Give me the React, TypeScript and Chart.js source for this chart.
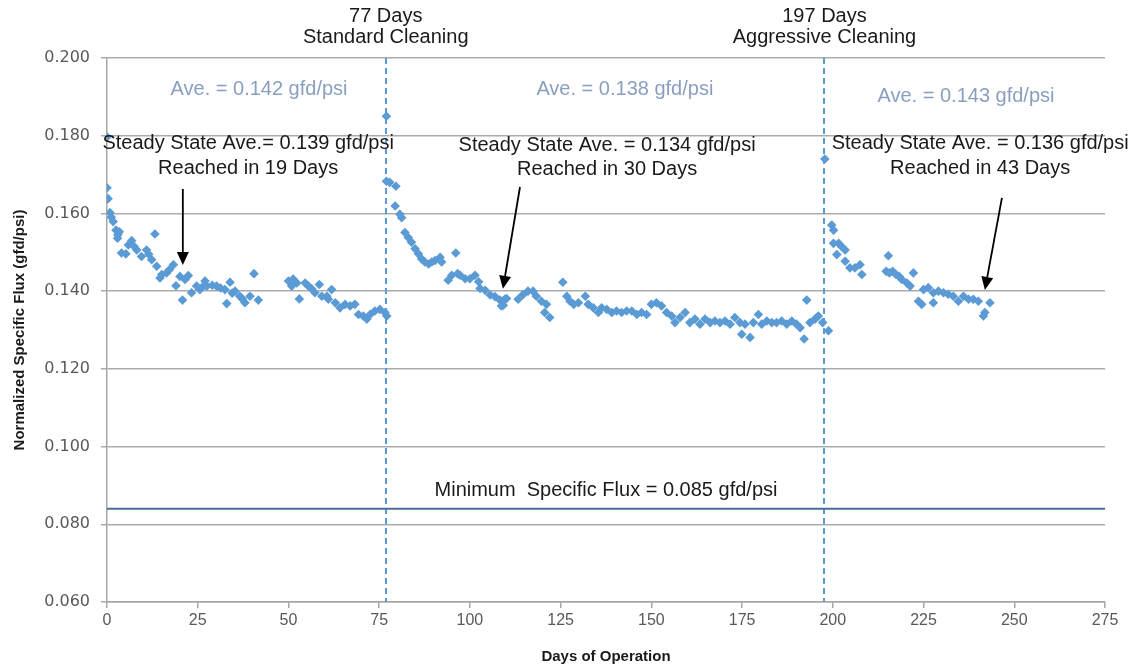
import React, { useEffect, useRef } from "react";
import { Chart, registerables } from "chart.js";

Chart.register(...registerables);

// ---- Data ----
const days: number[] = [
  // Run 1 (start-up to standard cleaning)
  0, 0, 0.3, 0.8, 1.2, 1.7, 2.5, 2.9, 3.0, 3.4, 4.0, 5.2, 5.9, 6.8, 7.5, 8.2, 9.5, 10.9, 11.5, 12.3,
  13.2, 13.7, 14.6, 15.1, 16.4, 17.2, 18.3, 19.0, 20.1, 20.8, 21.5, 22.4, 23.3, 24.7, 25.6, 26.2,
  27.0, 27.5, 29.0, 30.2, 31.3, 32.5, 33.0, 33.9, 34.5, 35.3, 36.6, 37.3, 38.0, 39.4, 40.5, 41.7,
  50.0, 50.9, 51.3, 52.3, 53.0, 54.6, 55.5, 56.4, 57.3, 58.5, 59.2, 60.6, 61.0, 61.9, 62.9, 64.2,
  65.6, 67.0, 68.3, 69.3, 70.6, 71.6, 72.5, 73.8, 75.2, 76.6, 77.1,
  // Run 2 (after standard cleaning)
  77.0, 77.0, 77.9, 79.4, 79.6, 80.7, 81.2, 82.1, 83.0, 83.9, 84.9, 85.8, 86.7, 87.6, 88.6, 89.5,
  90.4, 91.8, 92.2, 94.0, 95.0, 96.1, 96.6, 97.3, 98.7, 100.0, 101.4, 102.4, 102.8, 104.2, 105.6,
  106.9, 108.3, 108.7, 109.2, 109.6, 110.1, 113.3, 114.6, 116.0, 117.4, 118.3, 119.7, 120.6, 121.1,
  122.0, 125.6, 126.7, 127.6, 128.6, 129.9, 131.8, 132.6, 134.0, 135.4, 136.3, 137.7, 139.1, 140.4,
  141.8, 143.2, 144.6, 146.0, 147.3, 148.7, 150.0, 151.4, 152.8, 154.2, 155.6, 156.5, 157.9, 159.3,
  160.6, 162.0, 163.4, 164.8, 166.2, 167.5, 168.9, 170.3, 171.7, 173.0, 174.4, 174.9, 175.8, 177.2,
  178.1, 179.5, 180.4, 181.8, 183.2, 184.5, 185.9, 187.3, 188.7, 190.0, 191.0, 192.1, 192.8, 193.7,
  195.1, 196.0, 197.2, 198.8,
  // Run 3 (after aggressive cleaning)
  197.8, 199.7, 200.2, 200.2, 201.1, 201.6, 202.4, 203.4, 203.4, 204.7, 206.1, 207.5, 208.0,
  214.7, 215.3, 215.6, 216.5, 217.4, 218.3, 219.0, 220.4, 221.3, 222.2, 223.6, 224.5, 225.0, 226.3,
  227.7, 227.7, 229.1, 230.5, 231.8, 233.2, 234.6, 236.0, 237.4, 238.7, 240.1, 241.5, 241.9, 243.3,
];

const flux: number[] = [
  0.1797, 0.1666, 0.1638, 0.1602, 0.1590, 0.1579, 0.1557, 0.1536, 0.1545, 0.1553, 0.1498, 0.1496, 0.1519, 0.1530, 0.1515, 0.1506, 0.1489, 0.1506, 0.1495, 0.1481,
  0.1547, 0.1464, 0.1434, 0.1443, 0.1447, 0.1455, 0.1468, 0.1414, 0.1438, 0.1377, 0.1430, 0.1440, 0.1396, 0.1413, 0.1404, 0.1410,
  0.1426, 0.1413, 0.1415, 0.1413, 0.1408, 0.1404, 0.1368, 0.1423, 0.1395, 0.1400, 0.1387, 0.1380, 0.1370, 0.1387, 0.1445, 0.1377,
  0.1426, 0.1413, 0.1431, 0.1421, 0.1380, 0.1421, 0.1413, 0.1406, 0.1396, 0.1417, 0.1387, 0.1387, 0.1379, 0.1404, 0.1370, 0.1357,
  0.1366, 0.1362, 0.1366, 0.1340, 0.1336, 0.1328, 0.1340, 0.1349, 0.1353, 0.1345, 0.1336,
  0.1850, 0.1683, 0.1680, 0.1619, 0.1670, 0.1598, 0.1589, 0.1551, 0.1538, 0.1526, 0.1509, 0.1496, 0.1483, 0.1475, 0.1470, 0.1475,
  0.1479, 0.1487, 0.1475, 0.1428, 0.1441, 0.1498, 0.1445, 0.1441, 0.1432, 0.1432, 0.1441, 0.1424, 0.1407, 0.1402, 0.1390,
  0.1386, 0.1377, 0.1362, 0.1364, 0.1379, 0.1381, 0.1379, 0.1391, 0.1400, 0.1400, 0.1387, 0.1374, 0.1345, 0.1366,
  0.1332, 0.1423, 0.1387, 0.1374, 0.1366, 0.1370, 0.1387, 0.1366, 0.1357, 0.1345, 0.1357, 0.1353, 0.1345, 0.1349,
  0.1345, 0.1349, 0.1349, 0.1340, 0.1345, 0.1340, 0.1366, 0.1370, 0.1362, 0.1345, 0.1336, 0.1319, 0.1332, 0.1345,
  0.1319, 0.1328, 0.1315, 0.1328, 0.1319, 0.1323, 0.1319, 0.1323, 0.1315, 0.1332, 0.1319, 0.1289, 0.1315, 0.1281,
  0.1319, 0.1340, 0.1315, 0.1323, 0.1319, 0.1319, 0.1323, 0.1315, 0.1323, 0.1315, 0.1306, 0.1277, 0.1377, 0.1319,
  0.1328, 0.1336, 0.1319, 0.1298,
  0.1740, 0.1570, 0.1557, 0.1523, 0.1494, 0.1523, 0.1515, 0.1506, 0.1477, 0.1460, 0.1460, 0.1468, 0.1443,
  0.1451, 0.1491, 0.1447, 0.1451, 0.1443, 0.1438, 0.1430, 0.1421, 0.1413, 0.1447, 0.1374, 0.1366, 0.1404, 0.1409,
  0.1396, 0.1370, 0.1400, 0.1396, 0.1392, 0.1387, 0.1374, 0.1387, 0.1379, 0.1379, 0.1374, 0.1336, 0.1345, 0.1370,
];

const minimumFlux = 0.084;
const cleaningDays: number[] = [76.8, 197.7];
const xTickValues: number[] = [0, 25, 50, 75, 100, 125, 150, 175, 200, 225, 250, 275];
const yTickValues: number[] = [0.06, 0.08, 0.1, 0.12, 0.14, 0.16, 0.18, 0.2];

const xTitle = "Days of Operation";
const yTitle = "Normalized Specific Flux (gfd/psi)";

// ---- Annotation layout (data coordinates) ----
const BLACK = "#1a1a1a";
const AVE = "#8a9fbf";
const notes = [
  { text: "77 Days", x: 76.8, y: 0.2108, color: BLACK },
  { text: "Standard Cleaning", x: 76.8, y: 0.2052, color: BLACK },
  { text: "197 Days", x: 197.7, y: 0.2108, color: BLACK },
  { text: "Aggressive Cleaning", x: 197.7, y: 0.2052, color: BLACK },
  { text: "Ave. = 0.142 gfd/psi", x: 41.9, y: 0.1918, color: AVE },
  { text: "Ave. = 0.138 gfd/psi", x: 142.7, y: 0.1918, color: AVE },
  { text: "Ave. = 0.143 gfd/psi", x: 236.7, y: 0.1900, color: AVE },
  { text: "Steady State Ave.= 0.139 gfd/psi", x: 38.9, y: 0.1781, color: BLACK },
  { text: "Reached in 19 Days", x: 38.9, y: 0.1716, color: BLACK },
  { text: "Steady State Ave. = 0.134 gfd/psi", x: 137.8, y: 0.1776, color: BLACK },
  { text: "Reached in 30 Days", x: 137.8, y: 0.1712, color: BLACK },
  { text: "Steady State Ave. = 0.136 gfd/psi", x: 240.6, y: 0.1781, color: BLACK },
  { text: "Reached in 43 Days", x: 240.6, y: 0.1716, color: BLACK },
  { text: "Minimum  Specific Flux = 0.085 gfd/psi", x: 137.5, y: 0.0888, color: BLACK },
];
const arrows = [
  { x1: 20.9, y1: 0.1663, x2: 20.9, y2: 0.1467 },
  { x1: 113.8, y1: 0.1668, x2: 109.1, y2: 0.1406 },
  { x1: 246.6, y1: 0.164, x2: 241.9, y2: 0.1403 },
];

const annotationPlugin = {
  id: "fluxAnnotations",
  beforeDatasetsDraw(chart: any) {
    const { ctx, chartArea, scales } = chart;
    const x = scales.x;
    ctx.save();
    ctx.strokeStyle = "#5b9bd5";
    ctx.lineWidth = 2;
    ctx.setLineDash([6, 4]);
    cleaningDays.forEach((d) => {
      const px = Math.round(x.getPixelForValue(d));
      ctx.beginPath();
      ctx.moveTo(px, chartArea.top);
      ctx.lineTo(px, chartArea.bottom);
      ctx.stroke();
    });
    ctx.restore();
  },
  afterDraw(chart: any) {
    const { ctx, scales } = chart;
    const x = scales.x;
    const y = scales.y;
    ctx.save();
    ctx.font = '20px "Liberation Sans", Arial, sans-serif';
    ctx.textAlign = "center";
    ctx.textBaseline = "middle";
    notes.forEach((n) => {
      ctx.fillStyle = n.color;
      ctx.fillText(n.text, x.getPixelForValue(n.x), y.getPixelForValue(n.y));
    });
    ctx.strokeStyle = "#000";
    ctx.fillStyle = "#000";
    ctx.lineWidth = 1.8;
    arrows.forEach((a) => {
      const sx = x.getPixelForValue(a.x1);
      const sy = y.getPixelForValue(a.y1);
      const ex = x.getPixelForValue(a.x2);
      const ey = y.getPixelForValue(a.y2);
      const ang = Math.atan2(ey - sy, ex - sx);
      const headLen = 13;
      const headW = 6;
      const bx = ex - headLen * Math.cos(ang);
      const by = ey - headLen * Math.sin(ang);
      ctx.beginPath();
      ctx.moveTo(sx, sy);
      ctx.lineTo(bx, by);
      ctx.stroke();
      ctx.beginPath();
      ctx.moveTo(ex, ey);
      ctx.lineTo(bx + headW * Math.sin(ang), by - headW * Math.cos(ang));
      ctx.lineTo(bx - headW * Math.sin(ang), by + headW * Math.cos(ang));
      ctx.closePath();
      ctx.fill();
    });
    ctx.restore();
  },
};

export default function App() {
  const canvasRef = useRef<HTMLCanvasElement | null>(null);

  useEffect(() => {
    if (!canvasRef.current) return;
    const points = days.map((d, i) => ({ x: d, y: flux[i] }));
    const chart = new Chart(canvasRef.current, {
      type: "scatter",
      data: {
        datasets: [
          {
            label: "Normalized Specific Flux",
            data: points,
            pointStyle: "rectRot",
            pointRadius: 4.8,
            pointHoverRadius: 4.8,
            backgroundColor: "#5b9bd5",
            borderColor: "#5b9bd5",
            borderWidth: 0,
            order: 1,
          },
          {
            type: "line",
            label: "Minimum Specific Flux",
            data: [
              { x: xTickValues[0], y: minimumFlux },
              { x: xTickValues[xTickValues.length - 1], y: minimumFlux },
            ],
            borderColor: "#4a6c9b",
            borderWidth: 2,
            pointRadius: 0,
            fill: false,
            order: 2,
          } as any,
        ],
      },
      options: {
        animation: false,
        responsive: true,
        maintainAspectRatio: false,
        events: [],
        layout: { padding: { top: 58, right: 36, left: 0, bottom: 0 } },
        plugins: {
          legend: { display: false },
          tooltip: { enabled: false },
        },
        scales: {
          x: {
            type: "linear",
            min: xTickValues[0],
            max: xTickValues[xTickValues.length - 1],
            afterBuildTicks: (scale: any) => {
              scale.ticks = xTickValues.map((v) => ({ value: v }));
            },
            afterFit: (scale: any) => {
              scale.height = 66;
            },
            ticks: {
              color: "#595959",
              font: { family: '"Liberation Sans", Arial, sans-serif', size: 16 },
              padding: 3,
              maxRotation: 0,
              callback: (v: any) => String(v),
            },
            grid: {
              drawOnChartArea: false,
              drawTicks: true,
              tickLength: 6,
              color: "#a6a6a6",
              lineWidth: 1.5,
            },
            border: { display: true, color: "#a6a6a6", width: 1.5 },
            title: {
              display: true,
              text: xTitle,
              color: "#1a1a1a",
              font: { family: '"Liberation Sans", Arial, sans-serif', size: 15, weight: "bold" },
              padding: { top: 0, bottom: 2 },
            },
          },
          y: {
            type: "linear",
            min: yTickValues[0],
            max: yTickValues[yTickValues.length - 1],
            afterBuildTicks: (scale: any) => {
              scale.ticks = yTickValues.map((v) => ({ value: v }));
            },
            afterFit: (scale: any) => {
              scale.width = 107;
            },
            ticks: {
              color: "#595959",
              font: { family: '"DejaVu Sans", Verdana, sans-serif', size: 16 },
              padding: 11,
              callback: (v: any) => Number(v).toFixed(3),
            },
            grid: {
              drawOnChartArea: true,
              drawTicks: true,
              tickLength: 6,
              color: "#ababab",
              lineWidth: 1.5,
            },
            border: { display: true, color: "#a6a6a6", width: 1.5 },
            title: {
              display: true,
              text: yTitle,
              color: "#1a1a1a",
              font: { family: '"Liberation Sans", Arial, sans-serif', size: 15, weight: "bold" },
              padding: { top: 11, bottom: 0 },
            },
          },
        },
      },
      plugins: [annotationPlugin],
    } as any);
    return () => chart.destroy();
  }, []);

  return (
    <div style={{ position: "fixed", left: 0, top: 0, width: 1141, height: 668, background: "#fff" }}>
      <canvas ref={canvasRef} />
    </div>
  );
}
